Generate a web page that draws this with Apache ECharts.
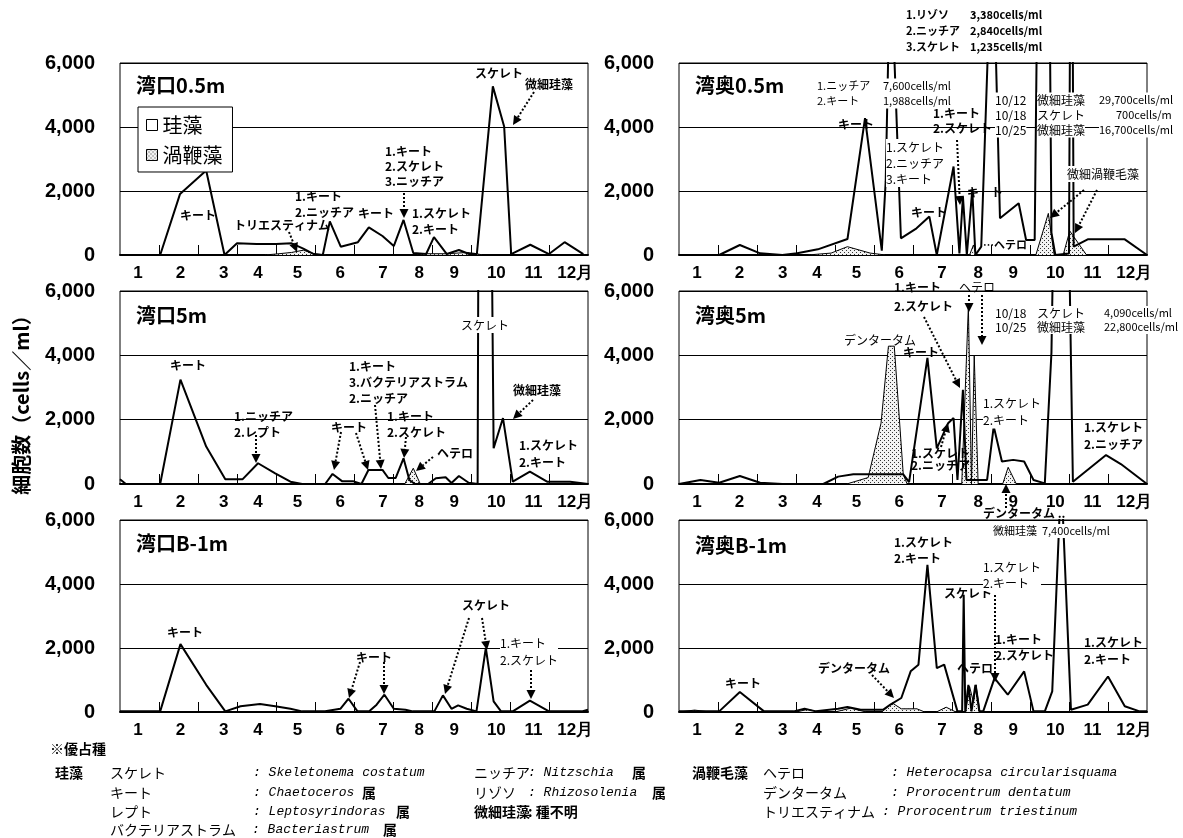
<!DOCTYPE html>
<html><head><meta charset="utf-8">
<script src="https://cdn.jsdelivr.net/npm/echarts@6/dist/echarts.min.js"></script>
<style>html,body{margin:0;padding:0;background:#fff}#c{width:1183px;height:838px}</style>
</head><body><div id="c"></div>
<script>
// ---------- data (x = months elapsed since 1 Jan, y = cells/ml) ----------
const monthLabels = ['1','2','3','4','5','6','7','8','9','10','11','12月'];
const monthLabelPos = [0.46,1.55,2.66,3.54,4.55,5.65,6.74,7.67,8.57,9.65,10.6,11.67];
const yTickValues = [0,2000,4000,6000];
const panelNames = ['湾口0.5m','湾奥0.5m','湾口5m','湾奥5m','湾口B-1m','湾奥B-1m'];

// 湾口0.5m
const kouDia05 = [[0,0],[1.03,0],[1.54,1910],[2.21,2640],[2.68,0],[3.0,370],[3.5,340],[4.0,345],[4.4,365],[4.7,200],[4.97,30],[5.2,0],[5.38,1050],[5.66,260],[6.1,400],[6.38,866],[6.73,594],[7.02,280],[7.27,1095],[7.52,60],[7.85,30],[8.05,560],[8.38,30],[8.69,156],[8.95,30],[9.15,30],[9.56,5270],[9.85,4017],[10.03,30],[10.52,320],[11.0,30],[11.4,400],[11.88,30]];
const kouDino05 = [[0,0],[3.7,0],[4.0,30],[4.4,80],[4.7,150],[5.0,30],[5.3,0],[7.6,0],[7.8,40],[8.4,40],[8.9,80],[9.1,50],[9.3,0],[12,0]];
// 湾奥0.5m
const okuDia05 = [[0,0],[1.03,0],[1.56,313],[2.08,52],[2.65,0],[3.03,52],[3.56,177],[4.32,500],[4.77,4276],[5.2,135],[5.3,2300],[5.42,9600],[5.69,521],[6.09,834],[6.42,1200],[6.61,0],[7.04,2764],[7.19,52],[7.28,1825],[7.38,0],[7.52,2034],[7.6,0],[7.75,260],[7.95,7455],[8.1,7455],[8.23,1147],[8.71,1617],[8.9,470],[9.12,470],[9.37,29700],[9.55,700],[9.65,0],[10.0,50],[10.06,16700],[10.12,260],[10.48,490],[11.43,490],[12,0]];
const okuDino05 = [[0,0],[3.3,0],[3.9,60],[4.32,260],[4.9,60],[5.3,0],[7.45,0],[7.55,313],[7.62,0],[9.15,0],[9.47,1300],[9.62,0],[9.85,0],[10.02,750],[10.45,0],[12,0]];
// 湾口5m
const kouDia5 = [[0,145],[0.15,0],[1.03,0],[1.55,3245],[2.21,1165],[2.70,145],[3.14,145],[3.54,645],[3.98,333],[4.37,73],[4.67,0],[5.26,0],[5.45,312],[5.70,83],[5.99,83],[6.19,0],[6.37,437],[6.73,437],[6.88,187],[7.07,187],[7.27,800],[7.42,125],[7.56,0],[7.9,0],[8.1,177],[8.35,208],[8.5,30],[8.69,250],[8.94,40],[9.17,0],[9.2,12000],[9.5,12000],[9.58,1112],[9.82,2050],[10.07,73],[10.51,385],[10.95,73],[11.54,73],[12,0]];
const kouDino5 = [[0,0],[7.3,0],[7.52,490],[7.7,0],[12,0]];
// 湾奥5m
const okuDia5 = [[0,0],[0.55,125],[1.03,40],[1.56,250],[2.08,40],[2.65,0],[3.7,0],[4.08,229],[4.47,300],[4.8,300],[5.4,300],[5.75,300],[5.9,60],[6.37,3920],[6.61,1110],[6.9,1890],[7.04,2050],[7.14,125],[7.28,2930],[7.37,125],[7.9,125],[8.07,1790],[8.28,700],[8.57,750],[8.85,700],[9.09,125],[9.38,20],[9.55,4090],[9.8,22800],[10.1,70],[10.95,900],[11.33,620],[12,0]];
const okuDino5 = [[0,0],[4.3,0],[4.85,200],[5.18,1890],[5.37,4285],[5.52,4285],[5.75,300],[5.85,0],[7.25,0],[7.42,5530],[7.5,0],[7.57,4000],[7.67,0],[8.3,0],[8.44,520],[8.65,0],[12,0]];
// 湾口B-1m
const kouDiaB = [[0,20],[1.03,20],[1.55,2120],[2.21,850],[2.70,20],[3.09,180],[3.59,250],[3.98,180],[4.37,100],[4.67,20],[5.26,20],[5.65,100],[5.86,415],[6.09,20],[6.39,20],[6.58,230],[6.78,540],[7.02,100],[7.32,70],[7.51,20],[8.06,20],[8.28,520],[8.50,100],[8.67,208],[8.89,100],[9.14,20],[9.38,2000],[9.58,333],[9.77,20],[10.07,20],[10.51,354],[11.0,20],[11.84,20],[12,70]];
const kouDinoB = [[0,0],[12,0]];
// 湾奥B-1m
const okuDiaB = [[0,20],[1.03,20],[1.56,624],[2.18,20],[2.94,20],[3.22,100],[3.51,20],[4.08,100],[4.32,156],[4.66,70],[5.23,70],[5.42,230],[5.7,437],[5.94,1270],[6.14,1480],[6.37,4600],[6.61,1372],[6.8,1480],[7.14,20],[7.26,20],[7.3,3660],[7.34,20],[7.42,850],[7.5,20],[7.6,850],[7.7,20],[7.8,20],[8.09,1060],[8.43,540],[8.85,1270],[9.09,20],[9.38,20],[9.57,645],[9.8,7400],[10.05,70],[10.48,230],[11.0,1110],[11.43,180],[11.81,20],[12,20]];
const okuDinoB = [[0,0],[0.4,60],[0.8,0],[3.0,0],[3.3,80],[3.6,0],[4.0,0],[4.4,120],[4.8,0],[5.2,0],[5.47,280],[5.7,100],[6.1,100],[6.3,0],[6.6,0],[6.85,150],[7.1,0],[7.35,0],[7.45,800],[7.55,300],[7.62,850],[7.72,0],[12,0]];

const diaSeries = [kouDia05, okuDia05, kouDia5, okuDia5, kouDiaB, okuDiaB];
const dinoSeries = [kouDino05, okuDino05, kouDino5, okuDino5, kouDinoB, okuDinoB];

// ---------- layout ----------
const grids = [
  {left:120, top:63, width:468, height:192},
  {left:679, top:63, width:468, height:192},
  {left:120, top:291, width:468, height:193},
  {left:679, top:291, width:468, height:193},
  {left:120, top:520, width:468, height:192},
  {left:679, top:520, width:468, height:192}
];
const JP = '"Noto Sans CJK JP"';

const pc = document.createElement('canvas');
pc.width = 4; pc.height = 4;
const pctx = pc.getContext('2d');
pctx.fillStyle = '#f2f2f2'; pctx.fillRect(0,0,4,4);
pctx.fillStyle = '#333'; pctx.fillRect(0,0,1,1); pctx.fillRect(2,2,1,1);
const dotted = {image: pc, repeat: 'repeat'};

function fmtNum(v){ return String(v).replace(/\B(?=(\d{3})+(?!\d))/g, ','); }

const xAxes = grids.map((g,i)=>({
  type:'value', gridIndex:i, min:0, max:12, interval:1,
  axisLine:{show:true, onZero:false, lineStyle:{color:'#000', width:2}},
  axisTick:{show:true, inside:true, length:10, customValues:[1,2,3,4,5,6,7,8,9,10,11], lineStyle:{color:'#000', width:1}},
  splitLine:{show:false},
  axisLabel:{show:true, customValues: monthLabelPos, margin:10, color:'#000',
    fontFamily:'"Liberation Sans", Arial, sans-serif', fontWeight:'bold', fontSize:17,
    formatter:(v)=>{ let k=0, d=1e9; monthLabelPos.forEach((p,j)=>{ if(Math.abs(p-v)<d){d=Math.abs(p-v);k=j;} }); return monthLabels[k]; }}
}));
const yAxes = grids.map((g,i)=>({
  type:'value', gridIndex:i, min:0, max:6000, interval:2000,
  axisLine:{show:false}, axisTick:{show:false},
  splitLine:{show:true, lineStyle:{color:'#000', width:1}},
  axisLabel:{margin:25, color:'#000', fontFamily:'"Liberation Sans", Arial, sans-serif', fontWeight:'bold', fontSize:20, formatter:fmtNum}
}));

const series = [];
grids.forEach((g,i)=>{
  series.push({name:'渦鞭藻', type:'line', xAxisIndex:i, yAxisIndex:i, data:dinoSeries[i], symbol:'none',
    lineStyle:{color:'#000', width:1}, areaStyle:{color:dotted, opacity:1}, z:2, clip:true});
  series.push({name:'珪藻', type:'line', xAxisIndex:i, yAxisIndex:i, data:diaSeries[i], symbol:'none',
    lineStyle:{color:'#000', width:2}, itemStyle:{color:'#000'}, z:3, clip:true});
});

// ---------- annotations (pixel layout) ----------
// [x, y(first line centre), text, bold, size, lineHeight, whiteBg]
const notes = [
  [136,85,'湾口0.5m',1,20],[695,85,'湾奥0.5m',1,20],[136,315,'湾口5m',1,20],[695,315,'湾奥5m',1,20],[136,543,'湾口B-1m',1,20],[695,545,'湾奥B-1m',1,20],
  // 湾口0.5m
  [180,215,'キート',1,12],[234,225,'トリエスティナム',1,12],[295,196,'1.キート\n2.ニッチア',1,12,16],[358,213,'キート',1,12],
  [385,151,'1.キート\n2.スケレト\n3.ニッチア',1,12,15],[412,213,'1.スケレト\n2.キート',1,12,16],[475,73,'スケレト',1,12],[525,84,'微細珪藻',1,12],
  // 湾口5m
  [170,365,'キート',1,12],[234,416,'1.ニッチア\n2.レプト',1,12,16],[331,427,'キート',1,12],[349,366,'1.キート\n3.バクテリアストラム\n2.ニッチア',1,12,16],
  [387,416,'1.キート\n2.スケレト',1,12,16],[437,453,'ヘテロ',1,12],[461,325,'スケレト',0,12,16,1],[513,390,'微細珪藻',1,12],[519,445,'1.スケレト\n2.キート',1,12,17],
  // 湾口B-1m
  [167,632,'キート',1,12],[356,657,'キート',1,12],[462,605,'スケレト',1,12],[500,643,'1.キート\n2.スケレト',0,12,17,1],
  // 湾奥0.5m
  [906,15,'1.リゾソ\n2.ニッチア\n3.スケレト',1,11,16],[970,15,'3,380cells/ml\n2,840cells/ml\n1,235cells/ml',1,11,16],
  [817,86,'1.ニッチア\n2.キート',0,11,15,1],[883,86,'7,600cells/ml\n1,988cells/ml',0,11,15,1],
  [838,124,'キート',1,12],[886,147,'1.スケレト\n2.ニッチア\n3.キート',0,12,16,1],[933,113,'1.キート\n2.スケレト',1,12,15],
  [911,212,'キート',1,12],[967,192,'キ　ト',1,12],[983,245,'…ヘテロ',1,11],
  [995,100,'10/12\n10/18\n10/25',0,12,15,1],[1037,100,'微細珪藻\nスケレト\n微細珪藻',0,12,15,1],[1099,100,'29,700cells/ml\n\n16,700cells/ml',0,11,15,1],[1116,115,'700cells/m',0,11,15,1],
  [1067,174,'微細渦鞭毛藻',0,12,16,1],
  // 湾奥5m
  [894,287,'1.キート\n2.スケレト',1,12,19],[959,287,'ヘテロ',0,12],[844,340,'デンタータム',0,12],[903,352,'キート',1,12],
  [995,313,'10/18\n10/25',0,12,14,1],[1037,313,'スケレト\n微細珪藻',0,12,14,1],[1104,313,'4,090cells/ml\n22,800cells/ml',0,11,14,1],
  [983,403,'1.スケレト\n2.キート',0,12,17,1],[911,453,'1.スケレト\n2.ニッチア',1,12,12],[1084,427,'1.スケレト\n2.ニッチア',1,12,17],
  [983,513,'デンタータム ..',1,12],
  // 湾奥B-1m
  [993,531,'微細珪藻  7,400cells/ml',0,11,14,1],
  [894,542,'1.スケレト\n2.キート',1,12,16],[944,593,'スケレト',1,12],[983,567,'1.スケレト\n2.キート',0,12,16,1],
  [995,639,'1.キート\n2.スケレト',1,12,16],[957,668,'ヘテロ',1,12],[818,668,'デンタータム',1,12],[725,683,'キート',1,12],[1084,642,'1.スケレト\n2.キート',1,12,17]
];
const arrows = [
  [289,232,297,252],[404,193,404,218],[534,92,513,125],
  [256,435,256,463],[341,432,334,470],[356,433,368,470],[375,405,381,469],[406,437,404,458],[433,457,416,471],[533,400,513,419],
  [360,662,349,698],[384,662,384,694],[469,618,445,694],[482,618,487,650],[531,670,531,699],
  [957,140,960,205],[1084,190,1050,218],[1097,190,1075,233],
  [924,317,960,388],[969,295,969,312],[982,295,982,345],[941,447,948,423],[1006,508,1006,484],
  [995,595,995,682],[872,675,894,698]
];

function noteEl(n){
  const [x,y,t,b,fs,lh,bg] = n;
  const L = lh || Math.round(fs*1.3);
  return {type:'text', x:x, y:y - L/2, z:100, silent:true,
    style:{text:t, fill:'#000', font:(b?'bold ':'')+fs+'px '+JP, textAlign:'left', textVerticalAlign:'top', lineHeight:L,
      backgroundColor: bg ? '#fff' : null}};
}
function arrowEls(a){
  const [x1,y1,x2,y2] = a;
  const ang = Math.atan2(y2-y1, x2-x1), Lh = 9, W = 4.5;
  const bx = x2 - Lh*Math.cos(ang), by = y2 - Lh*Math.sin(ang);
  const px = -Math.sin(ang)*W, py = Math.cos(ang)*W;
  return [
    {type:'line', z:99, silent:true, shape:{x1:x1,y1:y1,x2:bx,y2:by}, style:{stroke:'#000', lineWidth:2, lineDash:[2,2]}},
    {type:'polygon', z:99, silent:true, shape:{points:[[x2,y2],[bx+px,by+py],[bx-px,by-py]]}, style:{fill:'#000'}}
  ];
}
const footer = [
  [50,749,'※優占種',1,'j'],
  [55,773,'珪藻',1,'j'],[110,773,'スケレト',0,'j'],[253,773,': Skeletonema costatum',0,'i'],[474,773,'ニッチア',0,'j'],[528,773,': Nitzschia',0,'i'],[632,773,'属',1,'j'],
  [692,773,'渦鞭毛藻',1,'j'],[763,773,'ヘテロ',0,'j'],[891,773,': Heterocapsa circularisquama',0,'i'],
  [110,793,'キート',0,'j'],[253,793,': Chaetoceros',0,'i'],[362,793,'属',1,'j'],[474,793,'リゾソ',0,'j'],[528,793,': Rhizosolenia',0,'i'],[652,793,'属',1,'j'],
  [763,793,'デンタータム',0,'j'],[891,793,': Prorocentrum dentatum',0,'i'],
  [110,812,'レプト',0,'j'],[253,812,': Leptosyrindoras',0,'i'],[396,812,'属',1,'j'],[474,812,'微細珪藻',1,'j'],[528,812,': 種不明',1,'j'],
  [763,812,'トリエスティナム',0,'j'],[882,812,': Prorocentrum triestinum',0,'i'],
  [110,830,'バクテリアストラム',0,'j'],[252,830,': Bacteriastrum',0,'i'],[383,830,'属',1,'j']
];
function footEl(f){
  const [x,y,t,b,k] = f;
  const font = k==='i' ? 'italic 13px "Liberation Mono", monospace' : (b?'bold ':'')+'14px '+JP;
  return {type:'text', x:x, y:y, z:100, silent:true, style:{text:t, fill:'#000', font:font, textAlign:'left', textVerticalAlign:'middle'}};
}

const graphic = [];
graphic.push({type:'text', x:21, y:400, rotation:Math.PI/2, z:100, silent:true,
  style:{text:'細胞数（cells／ml）', fill:'#000', font:'bold 20px '+JP, textAlign:'center', textVerticalAlign:'middle'}});
arrows.forEach(a=>arrowEls(a).forEach(e=>graphic.push(e)));
notes.forEach(n=>graphic.push(noteEl(n)));
footer.forEach(f=>graphic.push(footEl(f)));

const chart = echarts.init(document.getElementById('c'), null, {renderer:'canvas'});
chart.setOption({
  animation:false,
  backgroundColor:'#fff',
  grid: grids.map(g=>Object.assign({show:true, borderColor:'#000', borderWidth:1, backgroundColor:'transparent'}, g)),
  xAxis: xAxes,
  yAxis: yAxes,
  legend:{orient:'vertical', left:138, top:107, selectedMode:false, z:20,
    backgroundColor:'#fff', borderColor:'#000', borderWidth:1, padding:[8,10,7,8], itemGap:10,
    itemWidth:11, itemHeight:11, textStyle:{fontSize:20, fontFamily:JP, color:'#000'},
    data:[{name:'珪藻', icon:'rect', itemStyle:{color:'#fff', borderColor:'#000', borderWidth:1}},
          {name:'渦鞭藻', icon:'rect', itemStyle:{color:dotted, borderColor:'#000', borderWidth:1}}]},
  series: series,
  graphic: graphic
});
</script></body></html>
